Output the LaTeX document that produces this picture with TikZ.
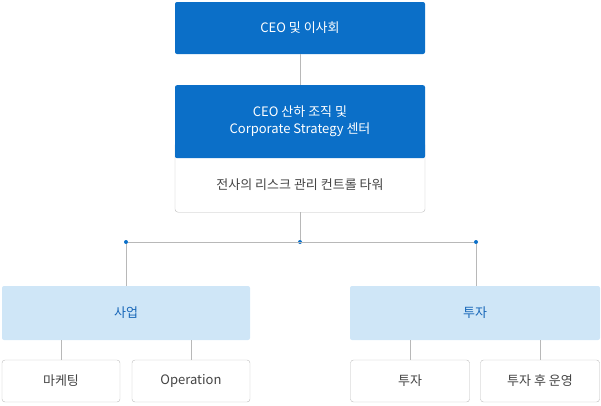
\documentclass[tikz,border=0pt]{standalone}
\usepackage{fontspec}
\setmainfont{Noto Sans CJK KR}
\definecolor{topblue}{HTML}{0B6FC8}
\definecolor{lightblue}{HTML}{CFE6F7}
\definecolor{textblue}{HTML}{1766B8}
\definecolor{boxgray}{HTML}{BDBDBD}
\definecolor{linegray}{HTML}{B8B8B8}
\definecolor{txtgray}{HTML}{444444}
\begin{document}
\begin{tikzpicture}[x=1pt, y=-1pt]

\tikzstyle{topbox}=[fill=topblue, rounded corners=2pt, text=white, align=center, font=\fontsize{13}{17}\selectfont]
\tikzstyle{subbox}=[fill=lightblue, rounded corners=2pt, text=textblue, font=\fontsize{13}{17}\selectfont]
\tikzstyle{leafbox}=[draw=boxgray, fill=white, rounded corners=3pt, text=txtgray, font=\fontsize{13}{17}\selectfont]
\tikzstyle{link}=[draw=linegray, line width=0.8pt]
\tikzstyle{dotnode}=[circle, fill=topblue, inner sep=0pt, minimum size=4pt]

\useasboundingbox (0,0) rectangle (601,405);

% --- board row ---
\node[topbox, minimum width=250pt, minimum height=52pt] (ceo) at (300,28) {CEO 및 이사회};

% --- ceo office & control tower ---
\node[leafbox, minimum width=250pt, minimum height=70pt, anchor=north] (tower) at (300,142) {};
\node[text=txtgray, font=\fontsize{13}{17}\selectfont] (towertxt) at (300,185) {전사의 리스크 관리 컨트롤 타워};
\node[topbox, minimum width=250pt, minimum height=73pt, anchor=north] (office) at (300,85) {CEO 산하 조직 및\\Corporate Strategy 센터};
\draw[link] (ceo.south) -- (office.north);

% --- branch rail ---
\node[dotnode] (dmid) at (300,242) {};
\node[dotnode] (dleft) at (126,242) {};
\node[dotnode] (dright) at (476,242) {};
\draw[link] (tower.south) -- (dmid);
\draw[link] (dleft) -- (dright);

% --- divisions ---
\node[subbox, minimum width=248pt, minimum height=54pt] (biz) at (126,313) {사업};
\node[subbox, minimum width=250pt, minimum height=54pt] (inv) at (475,313) {투자};
\draw[link] (dleft) -- (biz.north -| dleft);
\draw[link] (dright) -- (inv.north -| dright);

% --- leaves ---
\node[leafbox, minimum width=118pt, minimum height=42pt] (mkt) at (61,381) {마케팅};
\node[leafbox, minimum width=118pt, minimum height=42pt] (ops) at (191,381) {Operation};
\node[leafbox, minimum width=119pt, minimum height=42pt] (invl) at (410,381) {투자};
\node[leafbox, minimum width=119pt, minimum height=42pt] (post) at (540,381) {투자 후 운영};
\foreach \leaf in {mkt, ops} \draw[link] (biz.south -| \leaf) -- (\leaf.north);
\foreach \leaf in {invl, post} \draw[link] (inv.south -| \leaf) -- (\leaf.north);

\end{tikzpicture}
\end{document}
